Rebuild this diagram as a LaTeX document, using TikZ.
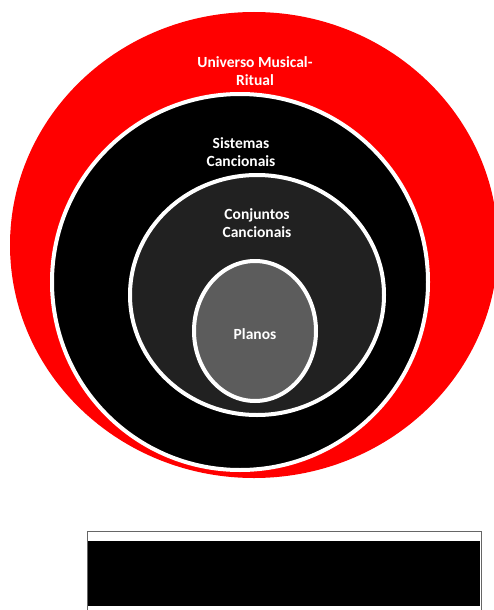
\documentclass[tikz,border=0pt]{standalone}
\usepackage{fontspec}
\setmainfont{Carlito}
\usetikzlibrary{shapes.geometric}
\tikzset{
  ring/.style={ellipse, draw=white, line width=4pt, inner sep=0pt},
  lbl/.style={text=white, font=\bfseries\fontsize{15.5}{17.5}\selectfont, align=center, inner sep=0pt}
}
\begin{document}
\begin{tikzpicture}[x=1pt,y=-1pt]
\useasboundingbox (0,0) rectangle (494,610);
\node[ellipse, fill=red, inner sep=0pt, minimum width=488pt, minimum height=466pt] (uni) at (254,245) {};
\node[ring, fill=black, minimum width=376pt, minimum height=376pt] (sis) at (240,282) {};
\node[ring, fill=black!87, minimum width=254pt, minimum height=240pt] (con) at (257,295) {};
\node[ring, fill=black!64, minimum width=122pt, minimum height=140pt] (pla) at (255,331) {};
\node[lbl] (tuni) at (255,71) {Universo Musical-\\Ritual};
\node[lbl] (tsis) at (241,152) {Sistemas\\Cancionais};
\node[lbl] (tcon) at (257,223) {Conjuntos\\Cancionais};
\node[lbl] (tpla) at (255,334) {Planos};
\draw[draw=black!60, line width=1pt, fill=white] (87,531) rectangle (481,625);
\fill[black] (88,541) rectangle (480,606);
\end{tikzpicture}
\end{document}
